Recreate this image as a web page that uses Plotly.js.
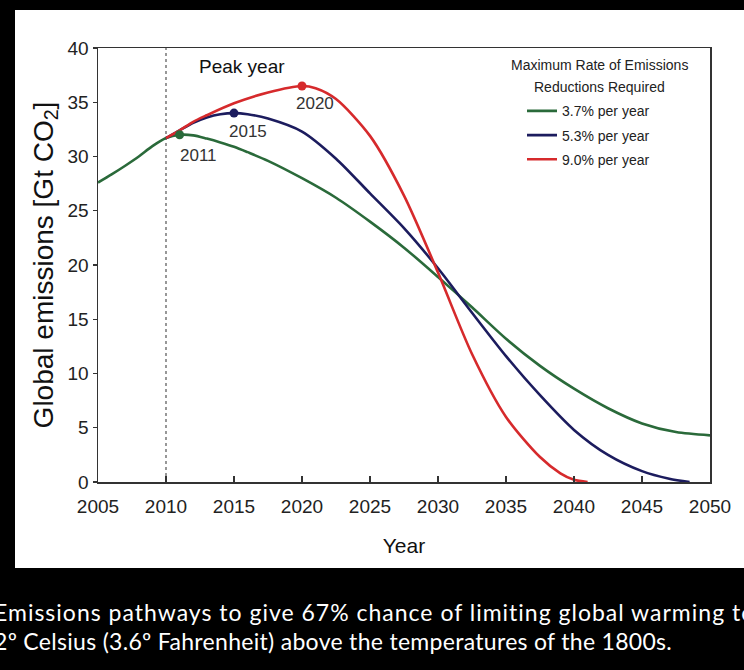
<!DOCTYPE html>
<html>
<head>
<meta charset="utf-8">
<script src="https://cdn.plot.ly/plotly-3.0.1.min.js"></script>
<style>
html,body{margin:0;padding:0;background:#000;width:744px;height:670px;overflow:hidden;}
#panel{position:absolute;left:15px;top:10px;width:729px;height:558px;background:#fff;}
#chart{position:absolute;left:0;top:0;width:744px;height:670px;}
#caption{position:absolute;left:-6px;top:598px;color:#fff;font-family:Lato,'Open Sans',sans-serif;font-size:23px;line-height:29px;white-space:nowrap;}
#caption .l1{letter-spacing:1.0px;}
#caption .l2{letter-spacing:0.3px;}
</style>
</head>
<body>
<div id="panel"></div>
<div id="chart"></div>
<div id="caption"><span class="l1">Emissions pathways to give 67% chance of limiting global warming to</span><br><span class="l2">2º Celsius (3.6º Fahrenheit) above the temperatures of the 1800s.</span></div>
<script>
// ---- data ----
const seriesNames = ['3.7% per year', '5.3% per year', '9.0% per year'];
const legendTitleLines = ['Maximum Rate of Emissions', 'Reductions Required'];

const yearsGreen = [2005, 2006, 2007, 2008, 2009, 2010, 2011, 2012, 2013, 2014, 2015, 2016, 2017.5, 2020, 2022.5, 2025, 2027.5, 2030, 2032.5, 2035, 2037.5, 2040, 2042.5, 2045, 2047.5, 2050];
const emisGreen  = [27.6, 28.35, 29.15, 30.0, 30.95, 31.7, 32.0, 31.95, 31.65, 31.3, 30.9, 30.4, 29.6, 28.0, 26.2, 24.0, 21.6, 18.9, 16.1, 13.2, 10.7, 8.6, 6.8, 5.4, 4.6, 4.3];

const yearsBlue = [2010, 2011, 2012, 2013, 2014, 2015, 2016, 2017.5, 2020, 2022.5, 2025, 2027.5, 2030, 2032.5, 2035, 2037.5, 2040, 2042.5, 2045, 2047, 2048.5];
const emisBlue  = [31.7, 32.4, 33.1, 33.6, 33.9, 34.0, 33.9, 33.5, 32.3, 29.8, 26.6, 23.4, 19.7, 15.6, 11.6, 8.0, 4.8, 2.5, 1.0, 0.3, 0.0];

const yearsRed = [2010, 2011, 2012, 2013, 2015, 2017.5, 2020, 2021, 2022.5, 2025, 2027.5, 2030, 2032.5, 2035, 2037.5, 2039, 2040, 2041];
const emisRed  = [31.7, 32.4, 33.2, 33.8, 34.9, 35.9, 36.5, 36.3, 35.3, 31.9, 26.4, 19.3, 11.8, 6.0, 2.3, 0.8, 0.2, 0.0];

const peakYears  = [2011, 2015, 2020];
const peakValues = [32.0, 34.0, 36.5];
const peakLabels = ['2011', '2015', '2020'];

const baseYear = 2010;
const xTickVals = [2005, 2010, 2015, 2020, 2025, 2030, 2035, 2040, 2045, 2050];
const yTickVals = [0, 5, 10, 15, 20, 25, 30, 35, 40];
const xRange = [2005, 2050];
const yRange = [0, 40];

// ---- styling ----
const colors = ['#2a6a3a', '#1c1c5e', '#d62a2c'];
const FONT = 'Liberation Sans, Arial, Helvetica, sans-serif';
const seriesX = [yearsGreen, yearsBlue, yearsRed];
const seriesY = [emisGreen, emisBlue, emisRed];

const traces = [];
for (let i = 0; i < 3; i++) {
  traces.push({
    x: seriesX[i], y: seriesY[i], type: 'scatter', mode: 'lines',
    name: seriesNames[i], legendgroup: 'g' + i,
    line: {color: colors[i], width: 2.6, shape: 'spline', smoothing: 0.8},
    hoverinfo: 'skip'
  });
}
traces.push({
  x: peakYears, y: peakValues, type: 'scatter', mode: 'markers',
  marker: {color: colors, size: 9},
  showlegend: false, hoverinfo: 'skip'
});

const labelShifts = [[19, -21], [14, -18], [13, -18]];
const annotations = peakLabels.map((t, i) => ({
  x: peakYears[i], y: peakValues[i], xref: 'x', yref: 'y', text: t,
  showarrow: false, xshift: labelShifts[i][0], yshift: labelShifts[i][1],
  font: {family: FONT, size: 17, color: '#333'}
}));
annotations.push({
  x: 2012.3, y: 38.25, xref: 'x', yref: 'y', text: 'Peak year', showarrow: false,
  xanchor: 'left', yanchor: 'middle', font: {family: FONT, size: 19, color: '#111'}
});
// legend title (two centred lines)
const titleY = [0.960, 0.910];
legendTitleLines.forEach((t, i) => annotations.push({
  x: 0.82, y: titleY[i], xref: 'paper', yref: 'paper', text: t, showarrow: false,
  xanchor: 'center', yanchor: 'middle', font: {family: FONT, size: 14, color: '#222'}
}));

const layout = {
  width: 744, height: 670,
  margin: {l: 98, r: 34, t: 48, b: 188},
  paper_bgcolor: 'rgba(0,0,0,0)', plot_bgcolor: 'rgba(0,0,0,0)',
  showlegend: true,
  font: {family: FONT, color: '#222'},
  xaxis: {
    range: xRange, tickvals: xTickVals, ticktext: xTickVals.map(String),
    ticks: 'inside', ticklen: 6, tickwidth: 1.2, tickcolor: '#333',
    showline: true, mirror: true, linecolor: '#333', linewidth: 1.5,
    showgrid: false, zeroline: false, ticklabelstandoff: 7,
    tickfont: {family: FONT, size: 19, color: '#222'},
    title: {text: 'Year', font: {family: FONT, size: 21, color: '#111'}, standoff: 22}
  },
  yaxis: {
    range: yRange, tickvals: yTickVals, ticktext: yTickVals.map(String),
    ticks: 'outside', ticklen: 4, tickwidth: 1.2, tickcolor: '#333',
    showline: true, mirror: true, linecolor: '#333', linewidth: 1.5,
    showgrid: false, zeroline: false,
    tickfont: {family: FONT, size: 19, color: '#222'},
    title: {text: 'Global emissions [Gt CO<sub>2</sub>]', font: {family: FONT, size: 28, color: '#111'}, standoff: 6}
  },
  legend: {
    x: (527 - 98 - 5) / 612, xanchor: 'left', y: 0.891, yanchor: 'top',
    bgcolor: 'rgba(0,0,0,0)', borderwidth: 0, tracegroupgap: 3,
    font: {family: FONT, size: 14, color: '#222'}
  },
  shapes: [{
    type: 'line', xref: 'x', yref: 'y', x0: baseYear, x1: baseYear, y0: yRange[0], y1: yRange[1],
    line: {color: '#444', width: 1.1, dash: '3px,3px'}, layer: 'below'
  }],
  annotations: annotations
};

Plotly.newPlot('chart', traces, layout, {displayModeBar: false, staticPlot: true});
</script>
</body>
</html>
